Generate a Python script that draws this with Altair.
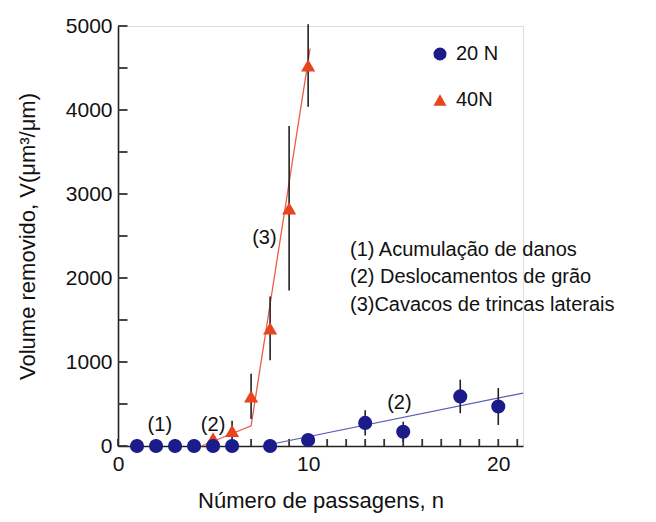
import altair as alt
import pandas as pd

# ---- data ----
n_20 = [1, 2, 3, 4, 5, 6, 8, 10, 13, 15, 18, 20]
v_20 = [0, 0, 0, 0, 0, 0, 0, 70, 275, 170, 590, 470]
e_20 = [0, 0, 0, 0, 0, 0, 0, 0, 150, 120, 200, 220]

n_40 = [5, 6, 7, 8, 9, 10]
v_40 = [90, 180, 590, 1400, 2830, 4530]
e_40 = [0, 120, 270, 380, 980, 490]

fit20_n = [7.6, 21.3]
fit20_v = [0, 630]
fit40_n = [4.4, 7.0, 10.1]
fit40_v = [0, 240, 4730]

series_names = ["20 N", "40N"]
series_colors = ["#1b1b8a", "#e8441e"]
series_shapes = ["circle", "triangle-up"]

x_ticks = list(range(0, 22))
y_ticks = list(range(0, 5001, 500))

notes_txt = ["(1)", "(2)", "(3)", "(2)"]
notes_n = [2.2, 5.0, 7.7, 14.8]
notes_v = [250, 250, 2480, 510]

block_txt = ["(1) Acumulação de danos", "(2) Deslocamentos de grão", "(3)Cavacos de trincas laterais"]
block_n = [12.2, 12.2, 12.2]
block_v = [2330, 2010, 1680]

FONT = "Arial, Liberation Sans, sans-serif"
FS = 20
LFS = 21
TFS = 22

pts = pd.DataFrame({
    "n": n_40 + n_20,
    "V": v_40 + v_20,
    "err": e_40 + e_20,
    "serie": ["40N"] * len(n_40) + ["20 N"] * len(n_20),
})
pts["lo"] = pts["V"] - pts["err"]
pts["hi"] = pts["V"] + pts["err"]
errs = pts[pts["err"] > 0]

fit20 = pd.DataFrame({"n": fit20_n, "V": fit20_v})
fit40 = pd.DataFrame({"n": fit40_n, "V": fit40_v})

xs = alt.Scale(domain=[0, 21.3], nice=False, zero=False)
ys = alt.Scale(domain=[0, 5000], nice=False)

xaxis = alt.Axis(values=x_ticks, ticks=False, grid=False,
                 labelExpr="datum.value % 5 == 0 ? datum.label : ''",
                 title="Número de passagens, n", labelFontSize=LFS, titleFontSize=TFS,
                 labelFont=FONT, titleFont=FONT, labelColor="#111", titleColor="#111",
                 titleFontWeight="normal", labelPadding=7, titlePadding=16,
                 domainColor="#222", domainWidth=1.6, labelFlush=False)
yaxis = alt.Axis(values=y_ticks, ticks=False, grid=False,
                 labelExpr="datum.value % 1000 == 0 ? datum.label : ''",
                 format="d",
                 title="Volume removido, V(μm³/μm)", labelFontSize=LFS, titleFontSize=TFS,
                 labelFont=FONT, titleFont=FONT, labelColor="#111", titleColor="#111",
                 titleFontWeight="normal", labelPadding=6, titlePadding=26,
                 domainColor="#222", domainWidth=1.6, labelFlush=False)

base_axes = alt.Chart(pd.DataFrame({"n": [0], "V": [0]})).mark_point(opacity=0).encode(
    x=alt.X("n:Q", scale=xs, axis=xaxis),
    y=alt.Y("V:Q", scale=ys, axis=yaxis),
)

ytick_df = pd.DataFrame({"V": y_ticks, "x0": 0.0, "x1": 0.5})
yticks = alt.Chart(ytick_df).mark_rule(color="#333", strokeWidth=1.8).encode(
    y=alt.Y("V:Q", scale=ys), x=alt.X("x0:Q", scale=xs), x2="x1:Q")
xtick_df = pd.DataFrame({"n": x_ticks})
xticks = alt.Chart(xtick_df).mark_rule(color="#333", strokeWidth=1.8).encode(
    x=alt.X("n:Q", scale=xs), y=alt.value(420), y2=alt.value(413))

line40 = alt.Chart(fit40).mark_line(color="#e8604a", strokeWidth=1.3).encode(
    x=alt.X("n:Q", scale=xs), y=alt.Y("V:Q", scale=ys))
line20 = alt.Chart(fit20).mark_line(color="#5a5ab8", strokeWidth=1.2).encode(
    x=alt.X("n:Q", scale=xs), y=alt.Y("V:Q", scale=ys))

ebars = alt.Chart(errs).mark_rule(color="#222", strokeWidth=1.6).encode(
    x=alt.X("n:Q", scale=xs), y=alt.Y("lo:Q", scale=ys), y2="hi:Q")

points = alt.Chart(pts).mark_point(filled=True, opacity=1, size=200).encode(
    x=alt.X("n:Q", scale=xs),
    y=alt.Y("V:Q", scale=ys),
    color=alt.Color("serie:N", scale=alt.Scale(domain=series_names, range=series_colors),
                    legend=alt.Legend(title=None, orient="none", legendX=312, legendY=18,
                                      labelFontSize=FS, labelFont=FONT, labelColor="#111",
                                      symbolSize=170, rowPadding=26, labelOffset=6,
                                      symbolStrokeWidth=0)),
    shape=alt.Shape("serie:N", scale=alt.Scale(domain=series_names, range=series_shapes)),
    order=alt.Order("ord:Q"),
).transform_calculate(ord="datum.serie == '40N' ? 0 : 1")

notes = alt.Chart(pd.DataFrame({"t": notes_txt, "n": notes_n, "V": notes_v})).mark_text(
    font=FONT, fontSize=FS, color="#111").encode(
    x=alt.X("n:Q", scale=xs), y=alt.Y("V:Q", scale=ys), text="t:N")

block = alt.Chart(pd.DataFrame({"t": block_txt, "n": block_n, "V": block_v})).mark_text(
    font=FONT, fontSize=FS, color="#111", align="left").encode(
    x=alt.X("n:Q", scale=xs), y=alt.Y("V:Q", scale=ys), text="t:N")

chart = alt.layer(base_axes, yticks, xticks, line40, line20, ebars, points, notes, block).properties(
    width=405, height=420,
    autosize=alt.AutoSizeParams(type="none"),
    padding={"left": 110, "top": 18, "right": 125, "bottom": 68},
).configure_view(stroke=None).configure(background="white", font=FONT)

chart.save("out.html", embed_options={"renderer": "svg", "actions": False})
